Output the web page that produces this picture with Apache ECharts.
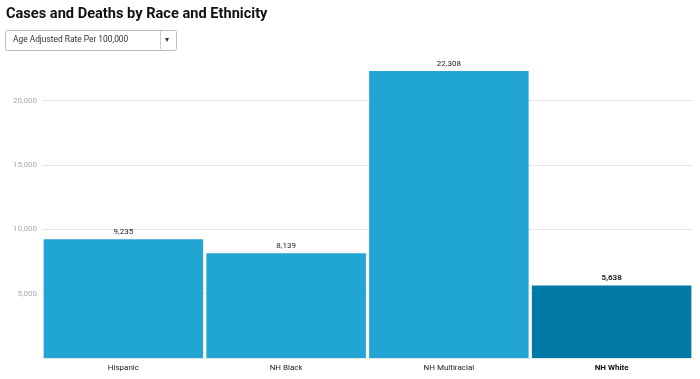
<!DOCTYPE html>
<html><head><meta charset="utf-8">
<script src="https://cdn.jsdelivr.net/npm/echarts@6/dist/echarts.min.js"></script>
<style>html,body{margin:0;padding:0;background:#fff}#c{width:700px;height:379px}</style>
</head><body><div id="c"></div>
<script>
const categories = ["Hispanic", "NH Black", "NH Multiracial", "NH White"];
const values = [9235, 8139, 22308, 5638];
const yTicks = [5000, 10000, 15000, 20000];
const highlighted = "NH White";

const chart = echarts.init(document.getElementById('c'));
chart.setOption({
  animation: false,
  title: {
    text: "Cases and Deaths by Race and Ethnicity",
    left: 6, top: 7, padding: 0,
    textStyle: {fontFamily: "Roboto", fontSize: 14.6, fontWeight: "bold", color: "#111"}
  },
  graphic: [
    {type: "rect", left: 5, top: 30, shape: {width: 171, height: 20, r: 2},
     style: {fill: "#fff", stroke: "#bbb", lineWidth: 1}},
    {type: "text", left: 13, top: 35.5,
     style: {text: "Age Adjusted Rate Per 100,000", font: "8.4px Roboto", fill: "#333"}},
    {type: "line", shape: {x1: 160.5, y1: 31, x2: 160.5, y2: 49}, style: {stroke: "#ccc"}},
    {type: "text", left: 165, top: 36, style: {text: "▾", font: "8px DejaVu Sans", fill: "#333"}}
  ],
  grid: {left: 42, right: 7, top: 71, bottom: 21, containLabel: false},
  xAxis: {
    type: "category", data: categories,
    axisLine: {show: false}, axisTick: {show: false},
    axisLabel: {
      fontFamily: "Roboto", fontSize: 8, color: "#222", margin: 6,
      formatter: v => v === highlighted ? "{b|" + v + "}" : v,
      rich: {b: {fontWeight: "bold", fontFamily: "Roboto", fontSize: 8, color: "#111"}}
    }
  },
  yAxis: {
    type: "value", min: 0, max: 22308, interval: 5000,
    axisLine: {show: false}, axisTick: {show: false},
    axisLabel: {
      fontFamily: "Roboto", fontSize: 8, color: "#aaa", margin: 5,
      formatter: v => yTicks.includes(v) ? v.toLocaleString("en-US") : ""
    },
    splitLine: {lineStyle: {color: ["#e6e6e6", "#e6e6e6", "#e6e6e6", "#e6e6e6", "#e6e6e6", "rgba(0,0,0,0)"]}}
  },
  series: [{
    type: "bar",
    barCategoryGap: "2%",
    data: values.map((v, i) => ({
      value: v,
      itemStyle: {color: categories[i] === highlighted ? "#0079a6" : "#21a5d3"},
      label: categories[i] === highlighted ? {fontWeight: "bold"} : {}
    })),
    label: {
      show: true, position: "top", distance: 3,
      fontFamily: "Roboto", fontSize: 8, color: "#222",
      formatter: p => p.value.toLocaleString("en-US")
    }
  }]
});
</script></body></html>
